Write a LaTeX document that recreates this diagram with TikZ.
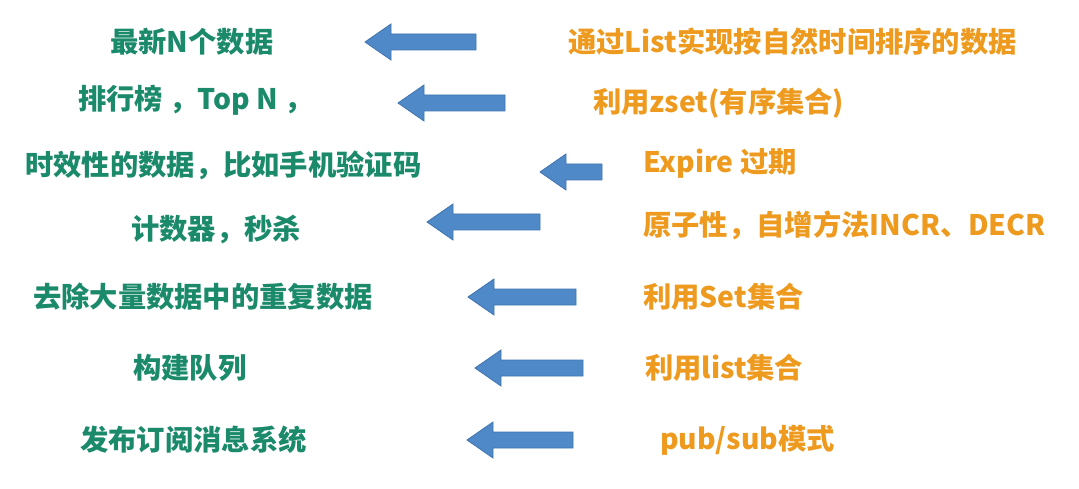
\documentclass[tikz,border=0pt]{standalone}
\usepackage{fontspec}
\setmainfont{Noto Sans CJK SC}
\definecolor{tgreen}{HTML}{1B8A6B}
\definecolor{torange}{HTML}{EE9A1E}
\definecolor{tblue}{HTML}{5089C8}
\definecolor{tbluedk}{HTML}{3F74B0}
\newcommand\blockarrow[3]{% x left, x right, y center
  \fill[tblue,draw=tbluedk,line width=0.8pt] (#1,#3) -- (#1+26,#3-18) -- (#1+26,#3-8) -- (#2,#3-8) -- (#2,#3+8) -- (#1+26,#3+8) -- (#1+26,#3+18) -- cycle;}
\begin{document}
\begin{tikzpicture}[x=1pt,y=-1pt,
  lt/.style={anchor=west,inner sep=0pt,text=tgreen,font=\fontsize{28.3}{30}\selectfont\bfseries},
  rt/.style={anchor=west,inner sep=0pt,text=torange,font=\fontsize{28.3}{30}\selectfont\bfseries}]
\useasboundingbox[fill=white] (0,0) rectangle (1079,489);
\node[lt] (l1) at (110,42) {最新N个数据};
\node[lt] (l2) at (78,100) {排行榜 ，Top N ，};
\node[lt] (l3) at (25,165) {时效性的数据，比如手机验证码};
\node[lt] (l4) at (131,230) {计数器，秒杀};
\node[lt] (l5) at (33,297) {去除大量数据中的重复数据};
\node[lt] (l6) at (133,368) {构建队列};
\node[lt] (l7) at (80,440) {发布订阅消息系统};
\node[rt] (r1) at (568,42) {通过List实现按自然时间排序的数据};
\node[rt] (r2) at (593,103) {利用zset(有序集合)};
\node[rt] (r3) at (643,163) {Expire 过期};
\node[rt] (r4) at (643,225) {原子性，自增方法INCR、DECR};
\node[rt] (r5) at (643,297) {利用Set集合};
\node[rt] (r6) at (645,368) {利用list集合};
\node[rt] (r7) at (660,440) {pub/sub模式};
\blockarrow{365}{476}{42}
\blockarrow{398}{505}{103}
\blockarrow{540}{602}{172}
\blockarrow{427}{540}{222}
\blockarrow{468}{576}{297}
\blockarrow{475}{583}{368}
\blockarrow{467}{573}{440}
\end{tikzpicture}
\end{document}
